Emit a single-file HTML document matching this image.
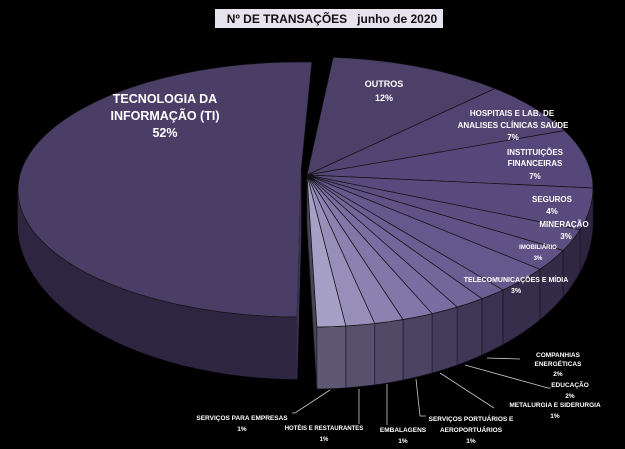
<!DOCTYPE html>
<html><head><meta charset="utf-8"><style>
html,body{margin:0;padding:0;background:#000;}
body{width:625px;height:449px;overflow:hidden;position:relative;font-family:"Liberation Sans",sans-serif;}
svg{position:absolute;left:0;top:0}
.t{fill:#fff;font-family:"Liberation Sans",sans-serif;font-weight:bold;text-anchor:middle}
</style></head><body>
<svg id="s" width="625" height="449" xmlns="http://www.w3.org/2000/svg">
<rect x="215" y="9" width="228" height="19" fill="#e6e2ee"/>
<text x="332" y="23" font-family="Liberation Sans" font-weight="bold" font-size="12" text-anchor="middle" fill="#111" style="white-space:pre">Nº DE TRANSAÇÕES   junho de 2020</text>
<g id="pie"></g>
<g id="lbl">
<text class="t" font-size="12.5" x="165" y="103">TECNOLOGIA DA</text>
<text class="t" font-size="12.5" x="165" y="120">INFORMAÇÃO (TI)</text>
<text class="t" font-size="12.5" x="165" y="137">52%</text>
<text class="t" font-size="9" x="384" y="87">OUTROS</text>
<text class="t" font-size="9" x="384" y="101">12%</text>
<text class="t" font-size="8" x="512" y="116">HOSPITAIS E LAB. DE</text>
<text class="t" font-size="8" x="513" y="128">ANALISES CLÍNICAS SAÚDE</text>
<text class="t" font-size="8" x="513" y="140">7%</text>
<text class="t" font-size="8" x="535" y="155">INSTITUIÇÕES</text>
<text class="t" font-size="8" x="535" y="166">FINANCEIRAS</text>
<text class="t" font-size="8" x="535" y="179">7%</text>
<text class="t" font-size="8" x="552" y="202">SEGUROS</text>
<text class="t" font-size="8" x="552" y="214">4%</text>
<text class="t" font-size="8" x="564" y="227">MINERAÇÃO</text>
<text class="t" font-size="8" x="566" y="239">3%</text>
<text class="t" font-size="6" x="538" y="249">IMOBILIÁRIO</text>
<text class="t" font-size="6" x="538" y="260">3%</text>
<text class="t" font-size="7" x="516" y="282">TELECOMUNICAÇÕES E MÍDIA</text>
<text class="t" font-size="7" x="516" y="293">3%</text>
<text class="t" font-size="6.5" x="558" y="357">COMPANHIAS</text>
<text class="t" font-size="6.5" x="558" y="366">ENERGÉTICAS</text>
<text class="t" font-size="6.5" x="558" y="376">2%</text>
<text class="t" font-size="6.5" x="570" y="387">EDUCAÇÃO</text>
<text class="t" font-size="6.5" x="570" y="398">2%</text>
<text class="t" font-size="6.5" x="555" y="407">METALURGIA E SIDERURGIA</text>
<text class="t" font-size="6.5" x="555" y="418">1%</text>
<text class="t" font-size="6.5" x="471" y="421">SERVIÇOS PORTUÁRIOS E</text>
<text class="t" font-size="6.5" x="471" y="432">AEROPORTUÁRIOS</text>
<text class="t" font-size="6.5" x="471" y="443">1%</text>
<text class="t" font-size="6.5" x="403" y="432">EMBALAGENS</text>
<text class="t" font-size="6.5" x="403" y="443">1%</text>
<text class="t" font-size="6" x="324" y="430">HOTÉIS E RESTAURANTES</text>
<text class="t" font-size="6" x="324" y="441">1%</text>
<text class="t" font-size="6.5" x="242" y="420">SERVIÇOS PARA EMPRESAS</text>
<text class="t" font-size="6.5" x="242" y="431">1%</text>
</g>
<g stroke="#ccc" stroke-width="0.8" fill="none">
<polyline points="487,358 520,359"/>
<polyline points="465,365 548,388 551,388"/>
<polyline points="440,373 494,408"/>
<polyline points="416,379 420,416 426,416"/>
<polyline points="387,384 387,425"/>
<polyline points="359,389 359,424"/>
<polyline points="330,390 295,413 292,413"/>
</g>
</svg>
<script>
(function(){
var g=document.getElementById('pie');var NS='http://www.w3.org/2000/svg';
function D(a){var c=Math.cos(a*Math.PI/180);return 34+28*Math.max(0,-c);}
function mk(cx,cy,rx,rt,rb){return function(a){var r=a*Math.PI/180;var c=Math.cos(r);return [cx+rx*Math.sin(r), cy-(c>0?rt:rb)*c];};}
function poly(p,fill,st){var e=document.createElementNS(NS,'polygon');e.setAttribute('points',p.map(function(q){return q[0].toFixed(1)+','+q[1].toFixed(1)}).join(' '));e.setAttribute('fill',fill);e.setAttribute('stroke',st||'#111');e.setAttribute('stroke-width','0.7');e.setAttribute('stroke-linejoin','round');g.appendChild(e);}
function arc(f,a1,a2){var p=[];var n=Math.max(2,Math.ceil((a2-a1)/1.5));for(var i=0;i<=n;i++)p.push(f(a1+(a2-a1)*i/n));return p;}
function side(f,a1,a2,col,st){var s=Math.max(a1,90),e=Math.min(a2,270);if(e<=s)return;var n=Math.max(2,Math.ceil((e-s)/1.5));var top=[],bot=[];for(var i=0;i<=n;i++){var a=s+(e-s)*i/n;var q=f(a);top.push(q);bot.push([q[0],q[1]+D(a)]);}poly(top.concat(bot.reverse()),col,st);}
function top(f,h,a1,a2,col){poly([h].concat(arc(f,a1,a2)),col);}
var fT=mk(300,190,282,128,127);
side(fT,180.6,362.4,'#2e2640','#2e2640');
top(fT,[301,172],180.6,362.4,'#4a3e66');
poly([[301,172],[297,317],[297,378],[301,235]],'#3a3150','#3a3150');
var f=mk(312,188,281,131,139);
var b=[4.3,40.6,64,90,107.5,116.7,125.8,137.2,142.8,148.9,154.7,161.1,167.1,173.1,179];
var tc=['#4d4068','#514372','#554779','#584a7c','#5c4e81','#605287','#65588d','#6b5e93','#72669b','#796ea2','#8177a9','#8b82b1','#978fba','#a69fc6'];
var sc=['#2f2742','#2f2742','#302843','#2d2540','#302843','#332b47','#362e4b','#3a3250','#3f3755','#443c5b','#4a4361','#504a67','#57516d','#5e5873'];
var hub=[307,175];
var fr=f(179);
poly([hub,fr,[fr[0],fr[1]+D(179)],[hub[0],hub[1]+50]],'#4a4458','#222');
for(var i=0;i<14;i++)side(f,b[i],b[i+1],sc[i],'#1a1526');
for(var i=0;i<14;i++)top(f,hub,b[i],b[i+1],tc[i]);
})();
</script>
</body></html>
